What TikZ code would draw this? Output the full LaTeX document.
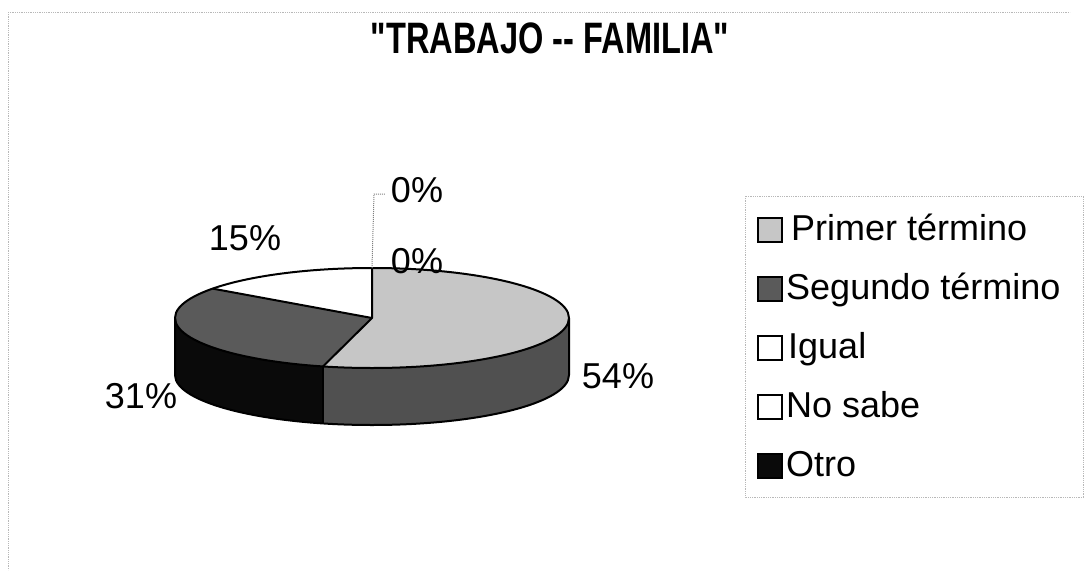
\documentclass[tikz,border=0pt]{standalone}
\usepackage{fontspec}
\setmainfont{Liberation Sans}
\usetikzlibrary{calc}
\definecolor{primerTop}{HTML}{C6C6C6}
\definecolor{primerSide}{HTML}{505050}
\definecolor{segTop}{HTML}{5A5A5A}
\definecolor{segSide}{HTML}{0A0A0A}
\definecolor{faint}{HTML}{B8B8B8}
\tikzset{
  pieline/.style={draw=black, line width=2pt, line join=round},
  lbl/.style={inner sep=0pt, font=\fontsize{36}{42}\selectfont},
  legtext/.style={inner sep=0pt, anchor=base west, font=\fontsize{36}{42}\selectfont},
  legbox/.style={draw=black, line width=1.5pt},
  faintline/.style={draw=faint, densely dotted, line width=0.8pt},
  leader/.style={draw=gray, densely dotted, line width=1pt},
  titlestyle/.style={inner sep=0pt, font=\fontsize{44}{50}\selectfont\bfseries},
  er/.style={x radius=197, y radius=50}
}
\begin{document}
\begin{tikzpicture}[x=1pt,y=-1pt]
\useasboundingbox (0,0) rectangle (1087,581);
% chart area and legend borders (faint)
\draw[faintline] (8,12) -- (1070,12);
\draw[faintline] (8,12) -- (8,570);
\draw[faintline] (745,196) rectangle (1083,497);
% title
\node[titlestyle] (title) at (550,38) {\scalebox{0.74}[1]{\textquotedbl TRABAJO -{}- FAMILIA\textquotedbl}};
% pie geometry
\coordinate (C) at (372,318);
\coordinate (Cb) at (372,375);
\coordinate (R) at ([shift={(0:197 and 50)}]C);
\coordinate (Rb) at ([shift={(0:197 and 50)}]Cb);
\coordinate (L) at ([shift={(180:197 and 50)}]C);
\coordinate (Lb) at ([shift={(180:197 and 50)}]Cb);
\coordinate (P) at ([shift={(104.4:197 and 50)}]C);
\coordinate (Pb) at ([shift={(104.4:197 and 50)}]Cb);
\coordinate (S) at ([shift={(216:197 and 50)}]C);
\coordinate (T) at ([shift={(270:197 and 50)}]C);
% sides
\fill[primerSide] (R) arc[start angle=0,end angle=104.4,er] -- (Pb) arc[start angle=104.4,end angle=0,er] -- cycle;
\fill[segSide] (P) arc[start angle=104.4,end angle=180,er] -- (Lb) arc[start angle=180,end angle=104.4,er] -- cycle;
% top faces
\fill[primerTop] (C) -- (T) arc[start angle=-90,end angle=104.4,er] -- cycle;
\fill[segTop] (C) -- (P) arc[start angle=104.4,end angle=216,er] -- cycle;
\fill[white] (C) -- (S) arc[start angle=216,end angle=270,er] -- cycle;
% outlines
\draw[pieline] (C) ellipse[er];
\draw[pieline] (R) -- (Rb) arc[start angle=0,end angle=180,er] -- (L);
\draw[pieline] (P) -- (Pb);
\draw[pieline] (T) -- (C) -- (P);
\draw[pieline] (C) -- (S);
% leader line to top 0% label
\coordinate (lbend) at (374,194);
\coordinate (lend) at (385,194);
\draw[leader] (T) -- (lbend) -- (lend);
% data labels
\node[lbl] (l54) at (618,376) {54\%};
\node[lbl] (l31) at (141,396) {31\%};
\node[lbl] (l15) at (245,238) {15\%};
\node[lbl] (l0a) at (417,261) {0\%};
\node[lbl] (l0b) at (417,190) {0\%};
% legend
\draw[legbox, fill=primerTop] (758,218) rectangle (782,242);
\node[legtext] (t1) at (791,240) {Primer término};
\draw[legbox, fill=segTop] (758,277) rectangle (782,301);
\node[legtext] (t2) at (786,299) {Segundo término};
\draw[legbox, fill=white] (758,336) rectangle (782,360);
\node[legtext] (t3) at (788,358) {Igual};
\draw[legbox, fill=white] (758,395) rectangle (782,419);
\node[legtext] (t4) at (786,417) {No sabe};
\draw[legbox, fill=segSide] (758,454) rectangle (782,478);
\node[legtext] (t5) at (786,476) {Otro};
\end{tikzpicture}
\end{document}
